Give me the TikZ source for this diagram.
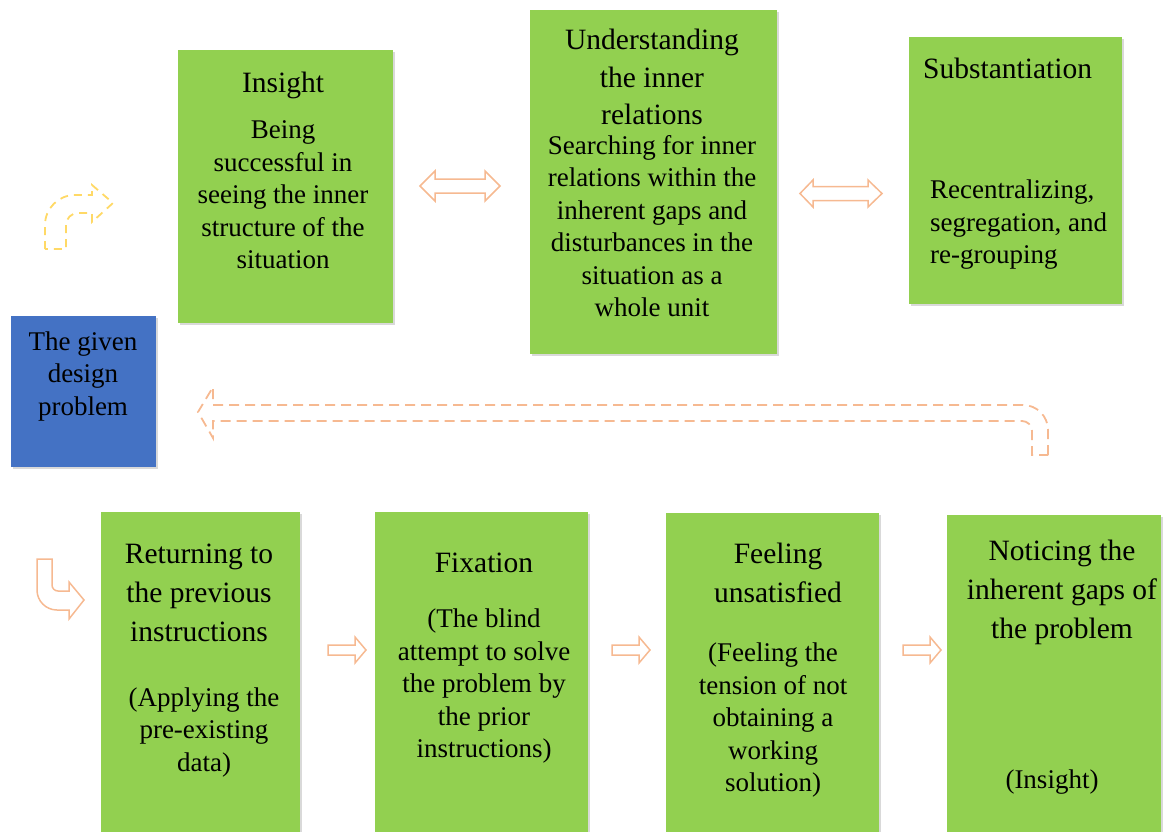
\documentclass[tikz,border=0pt]{standalone}
\usepackage{fontspec}
\setmainfont{Liberation Serif}
\usetikzlibrary{shadows}

\definecolor{boxgreen}{RGB}{146,208,80}
\definecolor{boxblue}{RGB}{68,114,196}
\definecolor{arrorange}{RGB}{246,185,145}
\definecolor{arryellow}{RGB}{255,217,102}

\tikzset{
    greenbox/.style={fill=boxgreen, anchor=north west, inner sep=0pt,
        drop shadow={shadow xshift=2pt, shadow yshift=-2pt, opacity=0.3}},
    bluebox/.style={greenbox, fill=boxblue},
    titletext/.style={inner sep=0pt, align=center, font=\fontsize{29.5}{39}\selectfont},
    bodytext/.style={inner sep=0pt, align=center, font=\fontsize{27}{32.5}\selectfont},
    hollow/.style={draw=arrorange, line width=1.5pt, line join=miter},
    hollowdash/.style={hollow, line width=1.8pt, dash pattern=on 10pt off 6pt},
}

\begin{document}
\begin{tikzpicture}[x=1pt, y=-1pt]
    \useasboundingbox (0,0) rectangle (1163,831);

    \node[greenbox, minimum width=215pt, minimum height=273pt] (insight) at (178,50) {};
    \node[greenbox, minimum width=247pt, minimum height=344pt] (under) at (530,10) {};
    \node[greenbox, minimum width=213pt, minimum height=267pt] (subst) at (909,37) {};
    \node[bluebox, minimum width=145pt, minimum height=151pt] (given) at (11,316) {};
    \node[greenbox, minimum width=199pt, minimum height=330pt] (return) at (101,512) {};
    \node[greenbox, minimum width=213pt, minimum height=330pt] (fix) at (375,512) {};
    \node[greenbox, minimum width=213pt, minimum height=330pt] (feel) at (666,513) {};
    \node[greenbox, minimum width=214pt, minimum height=330pt] (notice) at (947,515) {};

    \node[titletext] (insightT) at (283,85) {Insight};
    \node[bodytext] (insightB) at (283,195) {Being\\successful in\\seeing the inner\\structure of the\\situation};

    \node[titletext, font=\fontsize{29.5}{37.5}\selectfont] (underT) at (652,77) {Understanding\\the inner\\relations};
    \node[bodytext] (underB) at (652,226) {Searching for inner\\relations within the\\inherent gaps and\\disturbances in the\\situation as a\\whole unit};

    \node[titletext, anchor=west] (substT) at (923,68) {Substantiation};
    \node[bodytext, align=left, anchor=west] (substB) at (930,225) {Recentralizing,\\segregation, and\\re-grouping};

    \node[bodytext] (givenT) at (83,376) {The given\\design\\problem};

    \node[titletext] (returnT) at (199,593) {Returning to\\the previous\\instructions};
    \node[bodytext] (returnB) at (204,732) {(Applying the\\pre-existing\\data)};

    \node[titletext] (fixT) at (484,563) {Fixation};
    \node[bodytext] (fixB) at (484,686) {(The blind\\attempt to solve\\the problem by\\the prior\\instructions)};

    \node[titletext] (feelT) at (778,573) {Feeling\\unsatisfied};
    \node[bodytext] (feelB) at (773,720) {(Feeling the\\tension of not\\obtaining a\\working\\solution)};

    \node[titletext] (noticeT) at (1062,592) {Noticing the\\inherent gaps of\\the problem};
    \node[bodytext] (noticeB) at (1052,782) {(Insight)};

    \draw[hollow] (420,186) -- (435,171) -- (435,179) -- (485,179) -- (485,171) -- (500,186)
        -- (485,201) -- (485,193) -- (435,193) -- (435,201) -- cycle;
    \draw[hollow] (800,193.5) -- (813,180) -- (813,186.5) -- (868,186.5) -- (868,180) -- (882,193.5)
        -- (868,207) -- (868,200.5) -- (813,200.5) -- (813,207) -- cycle;

    \foreach \x in {328,612,903}
        \draw[hollow] (\x,645) -- ++(27,0) -- ++(0,-8) -- ++(11,13) -- ++(-11,13) -- ++(0,-8)
            -- ++(-27,0) -- cycle;

    \draw[hollowdash] (1048,455) -- (1048,430) arc[start angle=0, end angle=-90, radius=25]
        -- (213,405) -- (213,387) -- (198,412) -- (213,438) -- (213,421) -- (1022,421)
        arc[start angle=-90, end angle=0, radius=10] -- (1032,455) -- cycle;

    \draw[hollowdash, draw=arryellow, dash pattern=on 8pt off 6pt] (45,249) -- (45,225)
        arc[start angle=180, end angle=270, radius=30] -- (92,195) -- (92,185) -- (113,203)
        -- (92,222) -- (92,213) -- (78,213) arc[start angle=270, end angle=180, radius=12]
        -- (66,249) -- cycle;

    \draw[hollow] (37,559) -- (37,590) arc[start angle=180, end angle=90, radius=20]
        -- (69,610) -- (69,619) -- (84,600) -- (69,582) -- (69,591) -- (58,591)
        arc[start angle=90, end angle=180, radius=6] -- (52,559) -- cycle;
\end{tikzpicture}
\end{document}
